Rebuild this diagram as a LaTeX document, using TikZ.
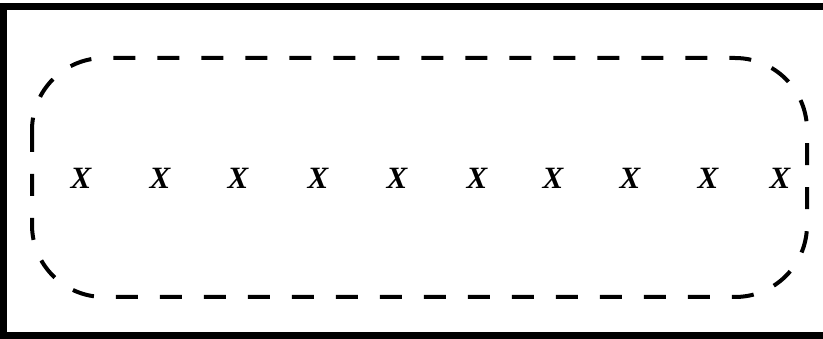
\documentclass[tikz,border=0pt]{standalone}
\usepackage{fontspec}
\setmainfont{Liberation Serif}
\usepackage{tikz}
\usetikzlibrary{positioning}
\tikzset{
  outerframe/.style={draw,line width=7pt},
  groupbox/.style={draw,line width=4pt,dash pattern=on 22pt off 22pt,rounded corners=72pt},
  elem/.style={inner sep=0pt,font=\fontsize{31}{36}\selectfont\bfseries\itshape}
}

\begin{document}
\begin{tikzpicture}[x=1pt,y=-1pt]
  \useasboundingbox (0,0) rectangle (823,339);
  \draw[outerframe] (3.5,6.5) rectangle (840,335.5);
  \draw[groupbox] (32,58) rectangle (807,297);

  % ten elements in a row
  \foreach \xpos [count=\i] in {81,160,238,318,397,477,553,630,708,780}
    \node[elem] (x\i) at (\xpos,178) {X};
\end{tikzpicture}
\end{document}
